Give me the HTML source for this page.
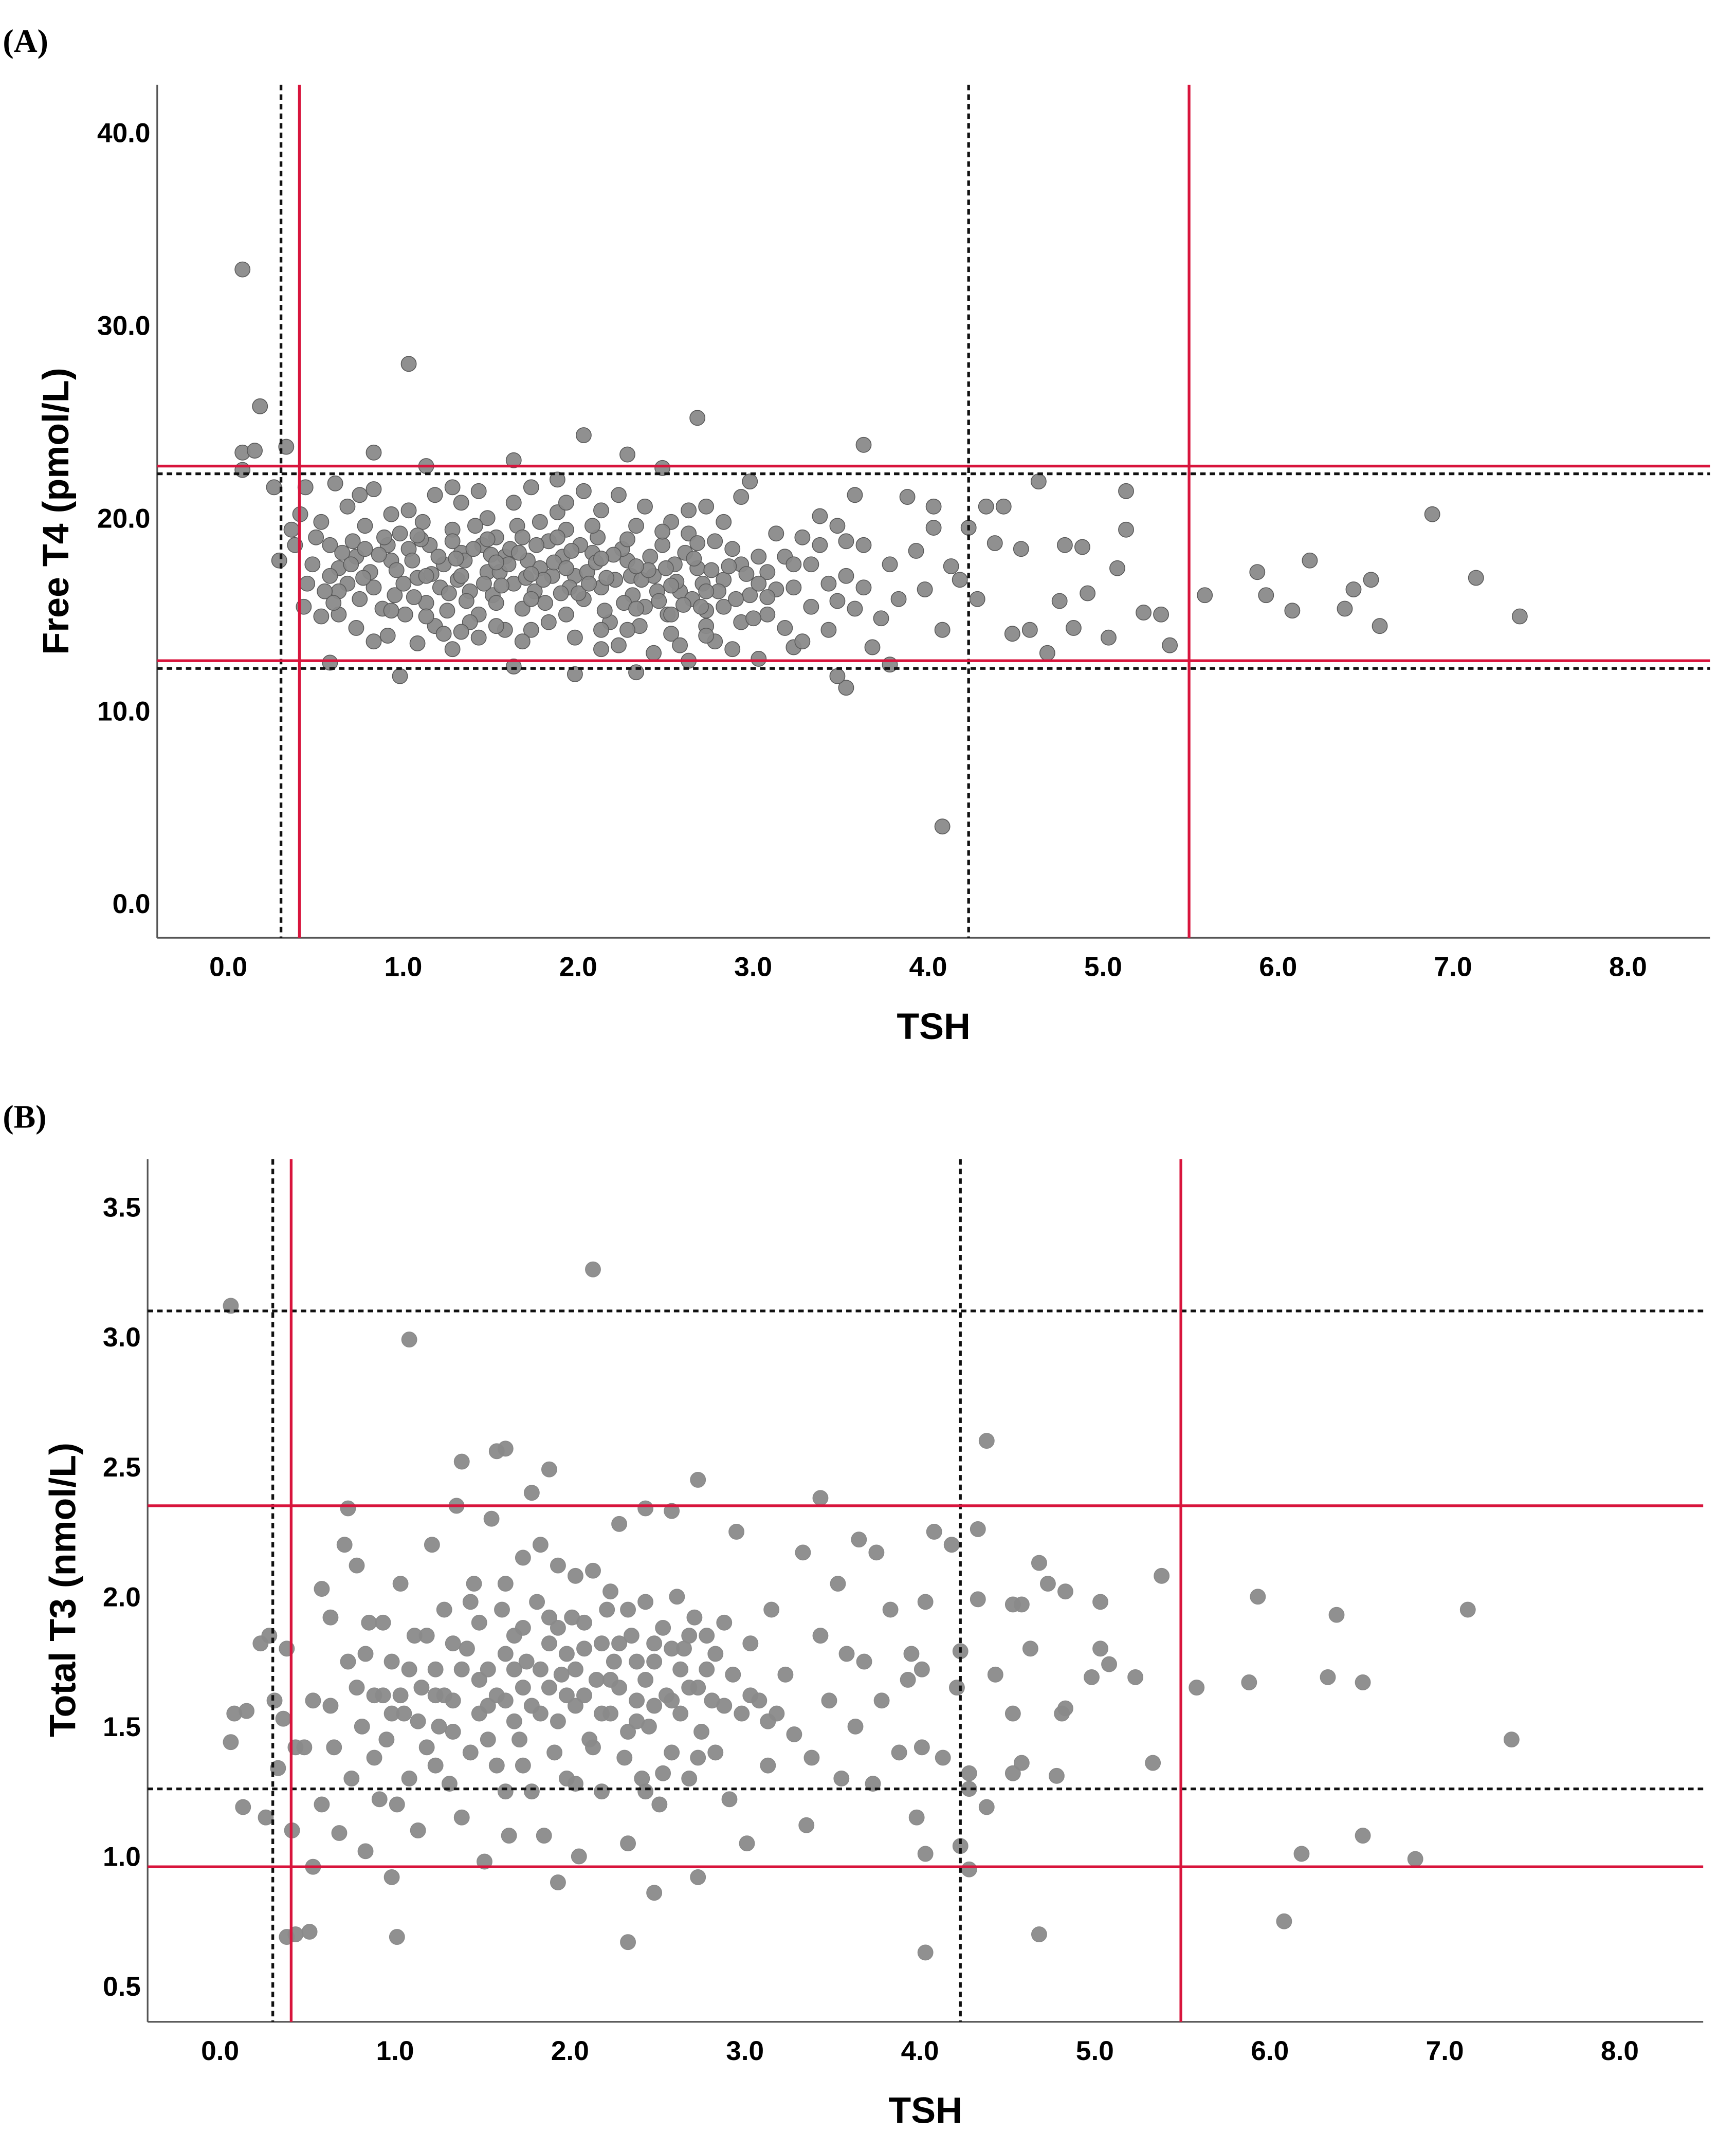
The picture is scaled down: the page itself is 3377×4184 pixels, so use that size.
<!DOCTYPE html>
<html><head><meta charset="utf-8">
<style>
html,body{margin:0;padding:0;background:#fff;}
svg{display:block;}
text{font-family:"Liberation Sans",Arial,sans-serif;font-weight:bold;fill:#000;}
.pl{font-family:"Liberation Serif",serif;}
</style></head>
<body>
<svg id="fig" width="3377" height="4184" viewBox="0 0 1270 1573.5" xmlns="http://www.w3.org/2000/svg">
<text class="pl" x="2" y="38" font-size="24">(A)</text>
<text class="pl" x="2" y="825" font-size="24">(B)</text>
<g id="panelA"></g>
<g id="panelB"></g>
</svg>
<script>
// ---- Panel A data (TSH, Free T4)
const xTicksA = [0,1,2,3,4,5,6,7,8];
const yTicksA = [0,10,20,30,40];
const refVDashA = [0.27,4.2];
const refVRedA = [0.375,5.46];
const refHDashA = [22.3,12.2];
const refHRedA = [22.7,12.6];
const pointsA = [
[0.05,32.9],[0.05,23.4],[0.05,22.5],[0.12,23.5],[0.15,25.8],[0.23,21.6],[0.3,23.7],[0.33,19.4],[0.38,20.2],[0.26,17.8],[0.41,21.6],[0.35,18.6],[0.42,16.6],[0.4,15.4],
[1.0,28.0],[0.8,23.4],[1.1,22.7],[1.6,23.0],[2.0,24.3],[2.25,23.3],[2.65,25.2],[3.6,23.8],[2.45,22.6],[3.85,21.1],[3.5,17.0],[4.0,20.6],[4.0,19.5],[4.05,14.2],
[4.1,17.5],[4.2,19.5],[4.3,20.6],[4.35,18.7],[4.4,20.6],[4.5,18.4],[4.6,21.9],[4.45,14.0],[4.55,14.2],[4.65,13.0],[4.72,15.7],[4.75,18.6],[4.8,14.3],[4.85,18.5],
[4.88,16.1],[5.0,13.8],[5.05,17.4],[5.1,19.4],[5.1,21.4],[5.2,15.1],[5.3,15.0],[5.35,13.4],[5.55,16.0],[5.85,17.2],[5.9,16.0],[6.05,15.2],[6.15,17.8],[6.35,15.3],
[6.4,16.3],[6.5,16.8],[6.55,14.4],[6.85,20.2],[7.1,16.9],[7.35,14.9],[4.05,4.0],[3.5,11.2],[3.45,11.8],[3.75,12.4],[0.95,11.8],[1.6,12.3],[1.95,11.9],[0.55,12.5],
[2.3,12.0],[2.6,12.6],[3.0,12.7],[4.25,15.8],[4.15,16.8],[3.95,16.3],[3.9,18.3],[3.7,14.8],[3.65,13.3],[3.8,15.8],[3.55,15.3],[3.4,16.6],[3.3,17.6],[3.25,19.0],
[3.35,20.1],[3.45,19.6],[3.55,21.2],[3.6,18.6],[3.75,17.6],[3.15,14.3],[3.2,13.3],[3.05,15.0],[3.1,16.3],[2.9,21.1],[2.95,21.9],[2.7,20.6],[2.8,19.8],
[0.5,19.8],[0.55,18.6],[0.6,17.4],[0.65,16.6],[0.7,18.0],[0.75,19.6],[0.8,16.4],[0.85,15.3],[0.9,17.8],[0.95,19.2],[0.6,15.0],[0.7,14.3],[0.8,13.6],[0.5,14.9],
[0.65,20.6],[0.8,21.5],[0.9,20.2],[1.0,18.4],[1.05,16.9],[1.1,15.6],[1.15,14.4],[1.2,17.6],[1.25,19.4],[1.3,18.2],[1.35,16.2],[1.4,15.0],[1.45,17.2],[1.5,19.0],
[1.0,20.4],[1.15,21.2],[1.3,20.8],[1.45,20.0],[1.55,18.0],[1.6,16.6],[1.65,15.3],[1.7,14.2],[1.75,17.4],[1.8,18.8],[1.85,20.3],[1.9,19.4],[1.95,17.0],[2.0,15.8],
[1.05,13.5],[1.25,13.2],[1.4,13.8],[1.55,14.2],[1.7,21.6],[1.85,22.0],[2.0,21.4],[2.05,18.2],[2.1,16.4],[2.15,14.6],[2.2,13.4],[2.25,17.8],[2.3,19.6],[2.35,15.4],
[2.4,17.0],[2.45,18.6],[2.5,14.0],[2.55,16.2],[2.6,19.2],[2.65,17.4],[2.7,15.2],[2.75,13.6],[2.8,16.8],[2.85,18.4],[2.9,14.6],[2.95,16.0],[3.0,18.0],[3.05,17.2],
[0.55,17.0],[0.6,16.2],[0.68,18.8],[0.72,15.8],[0.78,17.2],[0.88,18.6],[0.92,16.0],[0.98,15.0],[1.02,17.8],[1.08,19.8],[1.12,18.6],[1.18,16.4],[1.22,15.2],[1.28,16.8],
[1.32,17.8],[1.38,19.6],[1.42,18.6],[1.48,16.0],[1.52,17.2],[1.58,18.4],[1.62,19.6],[1.68,17.8],[1.72,16.2],[1.78,15.6],[1.82,17.0],[1.88,18.0],[1.92,16.4],[1.98,18.6],
[2.02,17.2],[2.08,19.0],[2.12,15.2],[2.18,16.8],[2.22,18.4],[2.28,16.0],[2.32,14.4],[2.38,18.0],[2.42,16.2],[2.48,15.0],[2.52,17.6],[2.58,18.2],[2.62,15.8],[2.68,16.6],
[1.2,14.0],[1.35,14.6],[1.5,15.6],[1.65,13.6],[1.8,14.6],[1.95,13.8],[2.1,13.2],[2.25,14.2],[2.4,13.0],[2.55,13.4],[2.7,14.4],[2.85,13.2],[1.9,20.8],[2.1,20.4],
[2.2,21.2],[2.35,20.6],[2.5,19.8],[2.6,20.4],[2.75,18.8],[1.4,21.4],[1.6,20.8],[1.75,19.8],[1.25,21.6],[0.88,13.9],[0.72,21.2],[0.58,21.8],[0.45,17.6],[0.47,19.0],
[3.1,19.2],[3.2,16.4],[3.3,15.4],[3.4,14.2],[3.0,16.6],[2.9,17.6],[2.8,15.4],[3.15,18.0],[3.5,18.8],[3.25,13.6],[3.6,16.4],
[0.62,18.2],[0.67,17.6],[0.74,16.9],[0.83,18.1],[0.86,19.0],[0.93,17.3],[0.97,16.6],[1.03,15.9],[1.07,18.9],[1.13,17.1],[1.17,18.0],[1.23,16.1],[1.27,17.9],[1.33,15.7],
[1.37,18.4],[1.43,16.6],[1.47,18.1],[1.53,16.5],[1.57,17.6],[1.63,18.2],[1.67,16.9],[1.73,18.6],[1.77,16.8],[1.83,17.7],[1.87,16.1],[1.93,18.3],[1.97,16.1],[2.03,16.6],
[2.07,17.7],[2.13,16.9],[2.17,18.1],[2.23,15.6],[2.27,17.0],[2.33,16.8],[2.37,17.3],[2.43,15.7],[2.47,17.4],[2.53,16.7],[2.57,15.5],[2.63,17.9],[2.67,15.4],[2.73,17.3],
[2.77,16.2],[2.83,17.5],[2.87,15.8],[2.93,17.1],[2.97,14.8],[1.1,17.0],[1.3,17.0],[1.5,17.7],[1.7,17.1],[1.9,17.4],[2.1,17.9],[2.3,17.5],[2.5,16.5],[2.7,16.2],
[0.9,15.2],[1.1,14.9],[1.3,14.1],[1.5,14.4],[1.7,15.8],[1.9,15.0],[2.1,14.2],[2.3,15.3],[2.5,15.0],[2.7,13.9],[0.75,18.4],[1.05,19.1],[1.25,18.8],[1.45,18.9],
[1.65,19.0],[1.85,19.0],[2.05,19.6],[2.25,18.9],[2.45,19.3],[2.65,18.7],[3.35,18.6],[3.2,17.6],[3.05,15.9],[3.45,15.7],[0.52,16.2],[0.57,15.6]
];
// ---- Panel B data (TSH, Total T3)
const xTicksB = [0,1,2,3,4,5,6,7,8];
const yTicksB = [0.5,1.0,1.5,2.0,2.5,3.0,3.5];
const refVDashB = [0.27,4.2];
const refVRedB = [0.375,5.46];
const refHDashB = [3.1,1.26];
const refHRedB = [2.35,0.96];
const pointsB = [
[0.03,3.12],[2.1,3.26],[1.05,2.99],[0.05,1.55],[0.03,1.44],[0.12,1.56],[0.1,1.19],[0.2,1.82],[0.25,1.85],[0.23,1.15],[0.28,1.6],[0.3,1.34],[0.33,1.53],[0.35,1.8],
[0.38,1.1],[0.35,0.69],[0.4,0.7],[0.48,0.71],[0.4,1.42],[0.45,1.42],[0.5,0.96],[0.55,1.2],[4.0,0.63],[2.3,0.67],[2.45,0.86],[2.7,0.92],[1.9,0.9],[0.95,0.92],[0.98,0.69],
[3.4,2.38],[4.35,2.6],[4.65,2.13],[4.7,2.05],[4.8,2.02],[4.55,1.97],[4.5,1.97],[5.0,1.98],[5.35,2.08],[5.0,1.8],[5.05,1.74],[4.95,1.69],[5.2,1.69],[5.55,1.65],
[5.85,1.67],[5.9,2.0],[6.3,1.69],[6.35,1.93],[6.5,1.67],[7.1,1.95],[7.35,1.45],[5.3,1.36],[6.05,0.75],[6.15,1.01],[6.5,1.08],[6.8,0.99],[4.65,0.7],[4.25,0.95],
[4.35,1.19],[4.2,1.04],[4.0,1.01],[3.95,1.15],[4.25,1.32],[4.5,1.32],[4.55,1.36],[4.75,1.31],[4.8,1.57],[4.78,1.55],[4.5,1.55],[4.6,1.8],[4.4,1.7],[4.3,1.99],
[4.3,2.26],[4.15,2.2],[4.05,2.25],[4.0,1.98],[4.2,1.79],[4.25,1.26],[2.7,2.45],[1.75,2.4],[1.85,2.49],[1.6,2.57],[1.55,2.56],[1.35,2.52],[0.7,2.34],[2.4,2.34],[2.55,2.33],
[0.5,1.6],[0.55,2.03],[0.6,1.58],[0.62,1.42],[0.65,1.09],[0.68,2.2],[0.7,1.75],[0.72,1.3],[0.75,2.12],[0.78,1.5],[0.8,1.02],[0.82,1.9],[0.85,1.62],[0.88,1.22],
[0.9,1.9],[0.92,1.45],[0.95,1.75],[0.98,1.2],[1.0,2.05],[1.02,1.55],[1.05,1.3],[1.08,1.85],[1.1,1.1],[1.12,1.65],[1.15,1.42],[1.18,2.2],[1.2,1.72],[1.22,1.5],
[1.25,1.95],[1.28,1.28],[1.3,1.6],[1.32,2.35],[1.35,1.15],[1.38,1.8],[1.4,1.4],[1.42,2.05],[1.45,1.55],[1.48,0.98],[1.5,1.72],[1.52,2.3],[1.55,1.35],[1.58,1.95],
[1.6,1.6],[1.62,1.08],[1.65,1.85],[1.68,1.45],[1.7,2.15],[1.72,1.75],[1.75,1.25],[1.78,1.98],[1.8,1.55],[1.82,1.08],[1.85,1.82],[1.88,1.4],[1.9,2.12],[1.92,1.7],
[1.95,1.3],[1.98,1.92],[2.0,1.58],[2.02,1.0],[2.05,1.8],[2.08,1.45],[2.1,2.1],[2.12,1.68],[2.15,1.25],[2.18,1.95],[2.2,1.55],[2.22,1.75],[2.25,2.28],[2.28,1.38],
[2.3,1.05],[2.32,1.85],[2.35,1.6],[2.38,1.3],[2.4,1.98],[2.42,1.5],[2.45,1.75],[2.48,1.2],[2.5,1.88],[2.52,1.62],[2.55,1.4],[2.58,2.0],[2.6,1.55],[2.62,1.8],
[2.65,1.3],[2.68,1.92],[2.7,1.65],[2.72,1.48],[2.75,1.85],[2.78,1.6],[2.8,1.4],[2.85,1.9],[2.88,1.22],[2.9,1.7],[2.92,2.25],[2.95,1.55],[2.98,1.05],[3.0,1.82],
[3.05,1.6],[3.1,1.35],[3.12,1.95],[3.15,1.55],[3.2,1.7],[3.25,1.47],[3.3,2.17],[3.32,1.12],[3.35,1.38],[3.4,1.85],[3.45,1.6],[3.5,2.05],[3.52,1.3],[3.55,1.78],
[3.6,1.5],[3.62,2.22],[3.65,1.75],[3.7,1.28],[3.72,2.17],[3.75,1.6],[3.8,1.95],[3.85,1.4],[3.9,1.68],[3.92,1.78],[3.98,1.72],[3.98,1.42],[4.1,1.38],[4.18,1.65],
[0.6,1.92],[0.75,1.65],[0.85,1.38],[0.95,1.55],[1.05,1.72],[1.15,1.85],[1.25,1.62],[1.35,1.72],[1.45,1.9],[1.55,1.62],[1.65,1.72],[1.75,1.58],[1.85,1.65],[1.95,1.78],
[2.05,1.62],[2.15,1.82],[2.25,1.65],[2.35,1.75],[2.45,1.58],[2.55,1.8],[2.65,1.65],[2.75,1.72],[2.85,1.58],[1.3,1.48],[1.5,1.45],[1.7,1.35],[1.9,1.52],[2.1,1.42],
[2.3,1.48],[2.5,1.32],[2.7,1.38],[1.2,1.35],[1.6,1.25],[2.0,1.28],[2.4,1.25],[1.4,1.98],[1.6,2.05],[1.8,2.2],[2.0,2.08],[2.2,2.02],[1.7,1.88],[1.9,1.88],[2.3,1.95],
[0.8,1.78],[1.0,1.62],[1.1,1.52],[1.3,1.82],[1.5,1.58],[1.7,1.65],[1.8,1.72],[2.0,1.72],[2.2,1.68],[2.4,1.68],[2.6,1.72],[2.8,1.78],[1.6,1.78],[1.85,1.92],
[2.05,1.9],[2.25,1.82],[2.45,1.82],[2.65,1.85],[1.45,1.68],[1.65,1.52],[1.95,1.62],[2.15,1.55],[2.35,1.52],[2.55,1.6],[1.2,1.62],[0.9,1.62],[3.0,1.62],[3.1,1.52]
];

const NS = 'http://www.w3.org/2000/svg';
function mk(parent, tag, attrs){const e=document.createElementNS(NS,tag);for(const k in attrs)e.setAttribute(k,attrs[k]);parent.appendChild(e);return e;}

function drawPanel(g, cfg){
  const {L,R,T,B,x0,xs,y0v,y0,ys} = cfg;
  const X = v => x0 + xs*v;
  const Y = v => y0 - ys*(v - y0v);
  const ax = mk(g,'line',{x1:L,y1:T,x2:L,y2:B,stroke:'#555','stroke-width':1.2});
  
  
  const bx = mk(g,'line',{x1:L,y1:B,x2:R,y2:B,stroke:'#555','stroke-width':1.2});
  
  
  cfg.xTicks.forEach(v=>{
    const t = mk(g,'text',{x:X(v)-4,y:B+28,'font-size':20,'text-anchor':'middle'});
    t.textContent = v.toFixed(1);
    
    
  });
  cfg.yTicks.forEach(v=>{
    const t = mk(g,'text',{x:L-5,y:Y(v)+7,'font-size':20,'text-anchor':'end'});
    t.textContent = v.toFixed(1);
    
    
  });
  cfg.points.forEach(p=>{
    const c = mk(g,'circle',{cx:X(p[0]),cy:Y(p[1]),r:cfg.r,fill:'#8a8a8a',stroke:cfg.stroke,'stroke-width':0.6,'fill-opacity':0.95});
    
    
  });
  cfg.vDash.forEach(v=>{
    const l = mk(g,'line',{x1:X(v),y1:T,x2:X(v),y2:B,stroke:'#111','stroke-width':2,'stroke-dasharray':'4 3'});
    
    
  });
  cfg.hDash.forEach(v=>{
    const l = mk(g,'line',{x1:L,y1:Y(v),x2:R,y2:Y(v),stroke:'#111','stroke-width':2,'stroke-dasharray':'4 3'});
    
    
  });
  cfg.vRed.forEach(v=>{
    const l = mk(g,'line',{x1:X(v),y1:T,x2:X(v),y2:B,stroke:'#d8143c','stroke-width':2});
    
    
  });
  cfg.hRed.forEach(v=>{
    const l = mk(g,'line',{x1:L,y1:Y(v),x2:R,y2:Y(v),stroke:'#d8143c','stroke-width':2});
    
    
  });
  const xt = mk(g,'text',{x:cfg.xtx,y:cfg.xty,'font-size':27,'text-anchor':'middle'});
  xt.textContent = 'TSH';
  
  
  const yt = mk(g,'text',{x:0,y:0,'font-size':27,'text-anchor':'middle',transform:`translate(${cfg.ytx},${cfg.yty}) rotate(-90)`});
  yt.textContent = cfg.ytitle;
  
  
}

drawPanel(document.getElementById('panelA'),{
  L:115,R:1251,T:62,B:686,x0:171,xs:128,y0v:0,y0:661,ys:14.1,
  xTicks:xTicksA,yTicks:yTicksA,points:pointsA,r:5.5,stroke:'#5a5a5a',
  vDash:refVDashA,vRed:refVRedA,hDash:refHDashA,hRed:refHRedA,
  xtx:683,xty:760,ytx:50,yty:374,ytitle:'Free T4 (pmol/L)'
});
drawPanel(document.getElementById('panelB'),{
  L:108,R:1246,T:848,B:1479,x0:165,xs:128,y0v:0.5,y0:1453,ys:190,
  xTicks:xTicksB,yTicks:yTicksB,points:pointsB,r:5.5,stroke:'#8a8a8a',
  vDash:refVDashB,vRed:refVRedB,hDash:refHDashB,hRed:refHRedB,
  xtx:677,xty:1553,ytx:55,yty:1163,ytitle:'Total T3 (nmol/L)'
});
</script>
</body></html>
